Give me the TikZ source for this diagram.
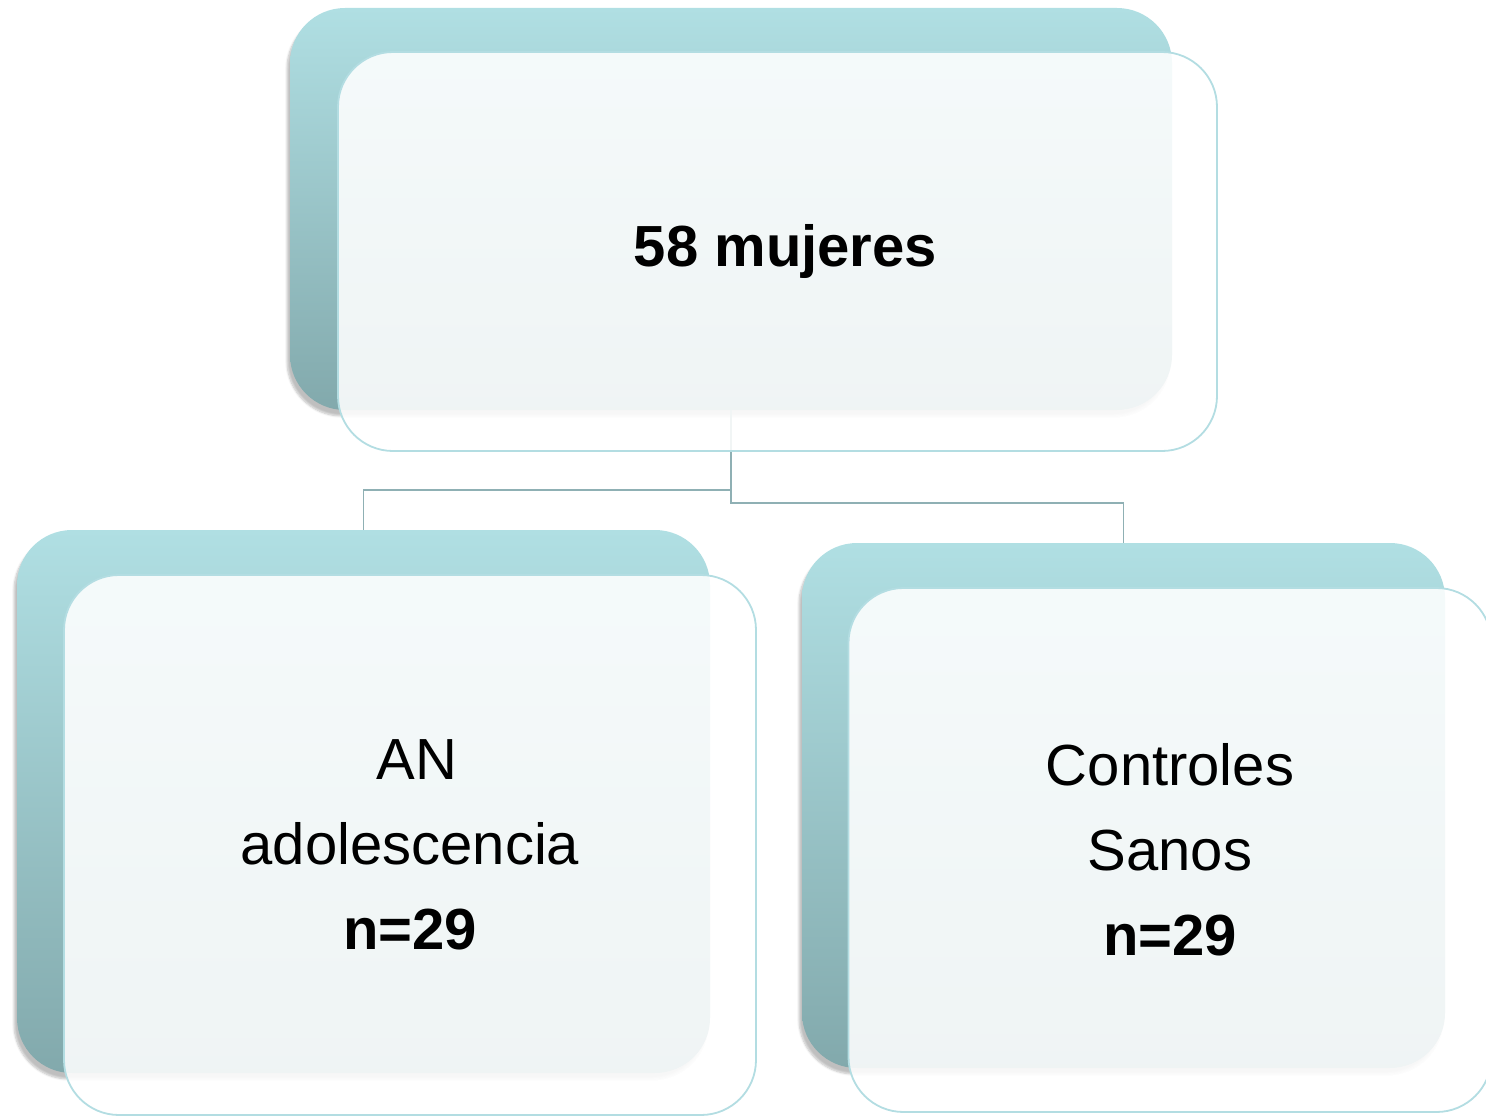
\documentclass[tikz,border=0pt]{standalone}
\usepackage{fontspec}
\setmainfont{Liberation Sans}
\usetikzlibrary{shadows.blur}
\definecolor{tealtop}{HTML}{B0DFE3}
\definecolor{tealbot}{HTML}{82A9AC}
\definecolor{edgecol}{HTML}{B3DDE2}
\definecolor{conncol}{HTML}{8FB0B4}
\tikzset{
  backbox/.style={rectangle, inner sep=0pt, rounded corners=55pt, top color=tealtop, bottom color=tealbot, draw=none,
    blur shadow={shadow xshift=-3pt, shadow yshift=-6pt, shadow opacity=25, shadow blur steps=6}},
  frontbox/.style={rectangle, inner sep=0pt, rounded corners=55pt, fill=white, fill opacity=0.88, text opacity=1,
    draw=edgecol, line width=1.8pt, align=center, font=\fontsize{58}{85}\selectfont},
  conn/.style={draw=conncol, line width=1.8pt}
}
\begin{document}
\begin{tikzpicture}[x=1pt,y=1pt]
\useasboundingbox (0,0) rectangle (1486,-1116);
% back boxes
\node[backbox, minimum width=882pt, minimum height=402pt] (tb) at (731,-209) {};
\node[backbox, minimum width=693pt, minimum height=543pt] (lb) at (363.5,-801.5) {};
\node[backbox, minimum width=643pt, minimum height=525pt] (rb) at (1123.5,-805.5) {};
% connectors
\draw[conn] (tb.south) -- ++(0,-80) -| (lb.north);
\draw[conn] (tb.south) -- ++(0,-93) -| (rb.north);
% front boxes
\node[frontbox, minimum width=879pt, minimum height=399pt] (tf) at (777.5,-251.5) {\hspace*{16pt}\textbf{58 mujeres}};
\node[frontbox, minimum width=692pt, minimum height=540pt] (lf) at (410,-845) {\hspace*{14pt}AN\\adolescencia\\\textbf{n=29}};
\node[frontbox, minimum width=643pt, minimum height=524pt] (rf) at (1170,-850) {Controles\\Sanos\\\textbf{n=29}};
\end{tikzpicture}
\end{document}
